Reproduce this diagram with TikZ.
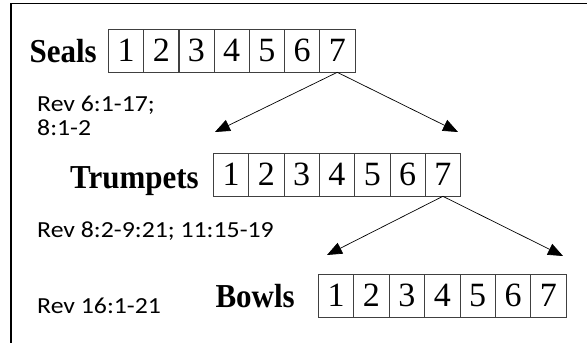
\documentclass[tikz,border=0pt]{standalone}
\usepackage{fontspec}
\setmainfont{Liberation Serif}
\newfontfamily\calib{Carlito}
\usetikzlibrary{arrows.meta}
\begin{document}
\begin{tikzpicture}[x=1pt,y=-1pt,
 cell/.style={draw=black!75, line width=0.8pt, minimum width=35.3pt, minimum height=42.5pt, inner sep=0pt, font=\fontsize{34}{34}\selectfont, anchor=north west},
 lbl/.style={font=\bfseries\fontsize{31}{31}\selectfont, anchor=base east, inner sep=0pt},
 ref/.style={font=\calib\fontsize{23}{25}\selectfont, anchor=base west, inner sep=0pt},
 arr/.style={line width=0.7pt, -{Triangle[length=15pt,width=12pt]}}]
\useasboundingbox[fill=white] (0,0) rectangle (587,343);
\draw[line width=1.5pt] (11,350) -- (11,3.5) -- (600,3.5);

% Seals
\node[lbl] (seals) at (97,62) {\scalebox{1}[1.08]{Seals}};
\foreach \i in {1,...,7} \node[cell] (s\i) at ({108+(\i-1)*35.2},29) {\i};
% Trumpets
\node[lbl] (trumpets) at (199,188) {\scalebox{1}[1.08]{Trumpets}};
\foreach \i in {1,...,7} \node[cell] (t\i) at ({213+(\i-1)*35.3},153) {\i};
% Bowls
\node[lbl] (bowls) at (295,307) {\scalebox{1}[1.08]{Bowls}};
\foreach \i in {1,...,7} \node[cell] (b\i) at ({318+(\i-1)*35.4},274) {\i};

% references
\node[ref] (r1a) at (37,111) {\scalebox{1.12}[1]{Rev 6:1-17;}};
\node[ref] (r1b) at (37,135) {\scalebox{1.12}[1]{8:1-2}};
\node[ref] (r2) at (37,237) {\scalebox{1.12}[1]{Rev 8:2-9:21; 11:15-19}};
\node[ref] (r3) at (37,313) {\scalebox{1.12}[1]{Rev 16:1-21}};

% arrows
\coordinate (sL) at (215,132);
\coordinate (sR) at (458,132);
\coordinate (tL) at (327,255);
\coordinate (tR) at (563,256);
\draw[arr] (s7.south) -- (sL);
\draw[arr] (s7.south) -- (sR);
\draw[arr] (t7.south) -- (tL);
\draw[arr] (t7.south) -- (tR);
\end{tikzpicture}
\end{document}
